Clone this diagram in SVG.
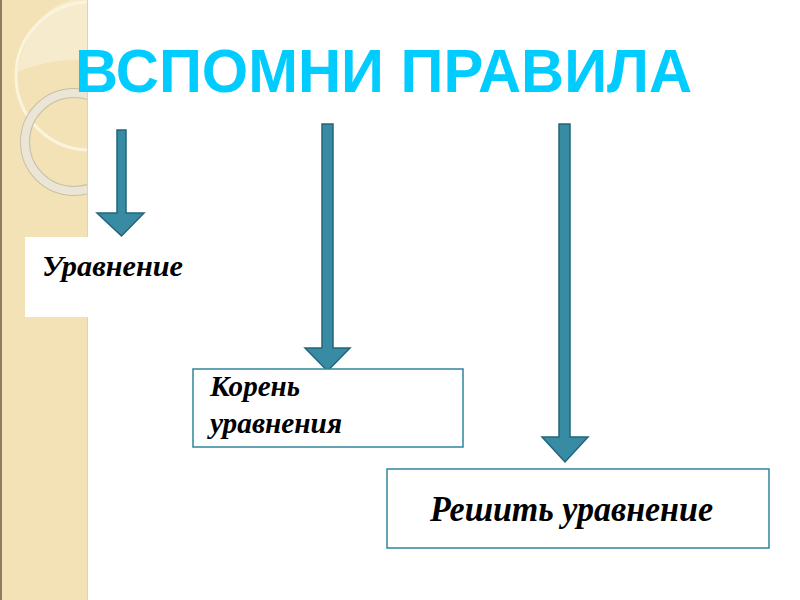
<svg xmlns="http://www.w3.org/2000/svg" width="800" height="600" viewBox="0 0 800 600">
<style>
.arrow{fill:#378ba2;stroke:#24657a;stroke-width:1.5;stroke-linejoin:miter}
.box{fill:#ffffff;stroke:#31859c;stroke-width:1.5}
.lbl{font-family:"Liberation Serif","Times New Roman",serif;font-weight:bold;font-style:italic;fill:#000000}
.title{font-family:"Liberation Sans",Arial,sans-serif;font-weight:bold;fill:#00ccff}
</style>
<defs>
<clipPath id="band"><rect x="0" y="0" width="88" height="600"/></clipPath>
</defs>
<rect x="0" y="0" width="800" height="600" fill="#ffffff"/>
<g id="background">
<rect x="0" y="0" width="88" height="600" fill="#f2e2b6"/>
<g clip-path="url(#band)">
<path d="M17,72 Q30,10 72,0 L88,0 L88,60 Q50,58 17,72 Z" fill="#f6ebcc"/>
<circle cx="90" cy="76" r="74" fill="none" stroke="#fbf4dc" stroke-width="3"/>
<circle cx="74" cy="142" r="49" fill="none" stroke="#c9bfa8" stroke-width="10"/>
<circle cx="74" cy="142" r="49" fill="none" stroke="#ebe5d6" stroke-width="8"/>
</g>
<rect x="0" y="0" width="2" height="600" fill="#8c7d5e"/>
<rect x="87" y="0" width="1" height="600" fill="#e2d3a8"/>
</g>
<g id="title">
<text class="title" x="75" y="92" font-size="61" textLength="617" lengthAdjust="spacingAndGlyphs">ВСПОМНИ ПРАВИЛА</text>
</g>
<g id="connectors">
<polygon class="arrow" points="117,130 126,130 126,213 144,213 121.5,236 97,213 117,213"/>
<polygon class="arrow" points="322,124 333,124 333,348 350,348 327.5,371 305,348 322,348"/>
<polygon class="arrow" points="559,124 570,124 570,437 588,437 565,462 542,437 559,437"/>
</g>
<g id="node-uravnenie">
<rect x="25" y="237" width="160" height="80" fill="#ffffff"/>
<text class="lbl" x="42" y="276" font-size="30" textLength="141" lengthAdjust="spacingAndGlyphs">Уравнение</text>
</g>
<g id="node-koren">
<rect class="box" x="193" y="369" width="270" height="78"/>
<text class="lbl" x="210" y="396" font-size="30" textLength="90" lengthAdjust="spacingAndGlyphs">Корень</text>
<text class="lbl" x="210" y="433" font-size="30" textLength="132" lengthAdjust="spacingAndGlyphs">уравнения</text>
</g>
<g id="node-reshit">
<rect class="box" x="387" y="469" width="382" height="79"/>
<text class="lbl" x="430" y="521" font-size="35" textLength="283" lengthAdjust="spacingAndGlyphs">Решить уравнение</text>
</g>
</svg>
